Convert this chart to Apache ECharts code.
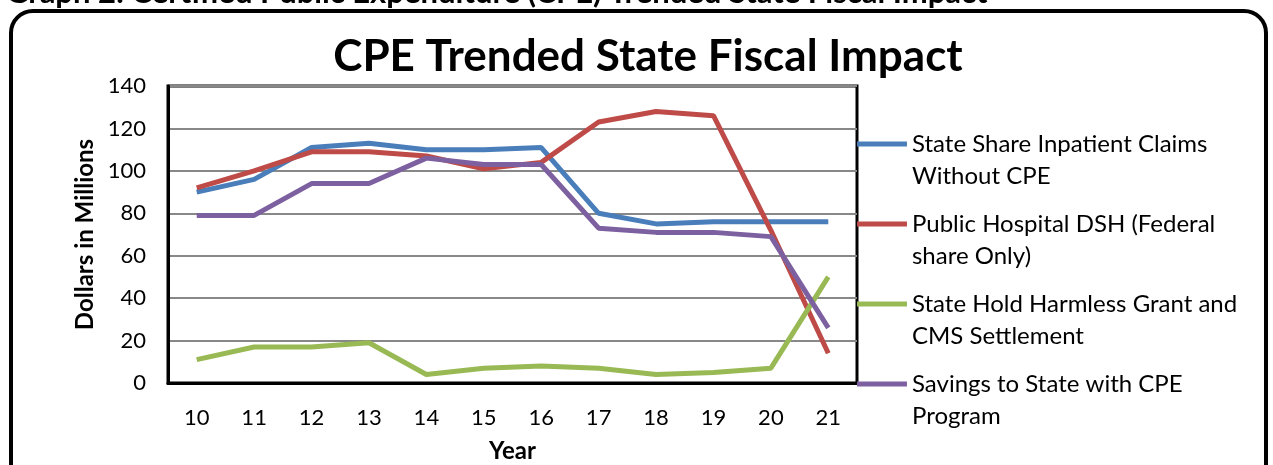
<!DOCTYPE html>
<html><head><meta charset="utf-8">
<script src="https://cdn.jsdelivr.net/npm/echarts@6/dist/echarts.min.js"></script>
<style>html,body{margin:0;padding:0;background:#fff}#c{width:1273px;height:465px}</style>
</head><body><div id="c"></div>
<script>
const years = ['10','11','12','13','14','15','16','17','18','19','20','21'];
const stateShare = [90, 96, 111, 113, 110, 110, 111, 80, 75, 76, 76, 76];
const publicDSH = [92, 100, 109, 109, 107, 101, 104, 123, 128, 126, 72, 14];
const holdHarmless = [11, 17, 17, 19, 4, 7, 8, 7, 4, 5, 7, 50];
const savings = [79, 79, 94, 94, 106, 103, 103, 73, 71, 71, 69, 26];
const seriesNames = ['State Share Inpatient Claims\nWithout CPE','Public Hospital DSH (Federal\nshare Only)','State Hold Harmless Grant and\nCMS Settlement','Savings to State with CPE\nProgram'];
const colors = ['#4a7ebb','#be4b48','#98b954','#7d60a0'];
const F = 'Lato, "Open Sans", sans-serif';
const chart = echarts.init(document.getElementById('c'));
const icon = 'path://M0,13.5 h50 v5 h-50 Z M0,0 h0.05 v0.05 h-0.05 Z M0,64 h0.05 v0.05 h-0.05 Z';
const data = [stateShare, publicDSH, holdHarmless, savings];
chart.setOption({
  animation:false,
  textStyle:{fontFamily:F},
  graphic:[
    {type:'rect', shape:{x:11,y:11,width:1255,height:480,r:22}, style:{fill:'none',stroke:'#000',lineWidth:4}},
    {type:'text', x:6, y:-23, style:{text:'Graph 2: Certified Public Expenditure (CPE) Trended State Fiscal Impact', font:'bold 31px '+F, fill:'#000'}}
  ],
  title:{text:'CPE Trended State Fiscal Impact', left:643, textAlign:'center', top:30, textStyle:{fontSize:44,fontWeight:'bold',color:'#000',fontFamily:F}},
  grid:{left:168,right:416,top:86,bottom:82,show:true,borderColor:'#000',borderWidth:3,outerBoundsMode:'none',containLabel:false},
  legend:{
    orient:'vertical', left:857, top:128, padding:0, itemWidth:50, itemHeight:64, itemGap:16,
    icon:icon,
    textStyle:{fontSize:24,color:'#000',lineHeight:32,fontFamily:F},
    data: seriesNames.map((n,i)=>({name:n, itemStyle:{color:colors[i]}}))
  },
  xAxis:{type:'category', data:years, boundaryGap:true,
    axisLine:{show:true,lineStyle:{color:'#000',width:3}}, axisTick:{show:false},
    axisLabel:{fontSize:22,color:'#000',margin:24,fontFamily:F},
    name:'Year', nameLocation:'middle', nameGap:56, nameTextStyle:{fontSize:24,fontWeight:'bold',color:'#000',fontFamily:F}},
  yAxis:{type:'value', min:0, max:140, interval:20,
    axisLine:{show:true,lineStyle:{color:'#000',width:3}}, axisTick:{show:false},
    splitLine:{lineStyle:{color:'#888',width:2}},
    axisLabel:{fontSize:22,color:'#000',margin:22,fontFamily:F},
    name:'Dollars in Millions', nameLocation:'middle', nameGap:70, nameTextStyle:{fontSize:24,fontWeight:'bold',color:'#000',fontFamily:F}},
  series: data.map((d,i)=>({name:seriesNames[i], type:'line', data:d, symbol:'none', lineStyle:{width:5,color:colors[i]}, itemStyle:{color:colors[i]}}))
});
</script></body></html>
